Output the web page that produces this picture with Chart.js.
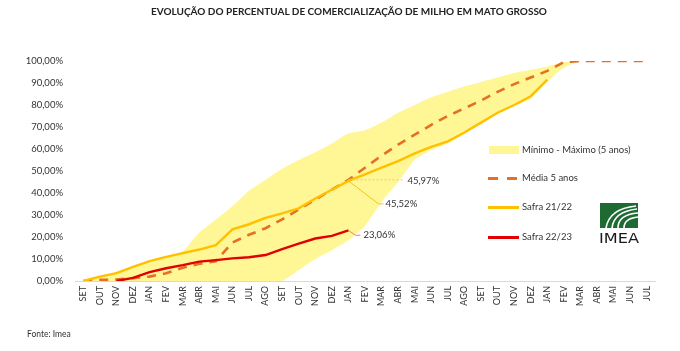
<!DOCTYPE html>
<html><head><meta charset="utf-8">
<script src="https://cdn.jsdelivr.net/npm/chart.js@4"></script>
<style>
html,body{margin:0;padding:0;background:#fff;}
#wrap{position:relative;width:680px;height:351px;font-family:Lato,'Open Sans',sans-serif;overflow:hidden;}
canvas{position:absolute;left:0;top:0;}
.t{position:absolute;white-space:nowrap;color:#333;line-height:1;}
.sw{position:absolute;}
</style></head><body>
<div id="wrap">
<canvas id="c" width="680" height="351"></canvas>
<div class="t" style="left:0;width:698px;top:6px;text-align:center;font-weight:bold;font-size:10px;color:#222;">EVOLUÇÃO DO PERCENTUAL DE COMERCIALIZAÇÃO DE MILHO EM MATO GROSSO</div>
<div class="sw" style="left:489px;top:146px;width:30px;height:8px;background:rgb(255,246,150);"></div>
<div class="t" style="left:522px;top:145px;font-size:9.5px;">Mínimo - Máximo (5 anos)</div>
<div class="sw" style="left:488px;top:177px;width:10px;height:3px;background:rgb(228,112,36);"></div>
<div class="sw" style="left:507px;top:177px;width:10px;height:3px;background:rgb(228,112,36);"></div>
<div class="t" style="left:522px;top:173px;font-size:9.5px;">Média 5 anos</div>
<div class="sw" style="left:488px;top:206px;width:31px;height:2.5px;background:rgb(255,192,0);"></div>
<div class="t" style="left:522px;top:202px;font-size:9.5px;">Safra 21/22</div>
<div class="sw" style="left:488px;top:236px;width:31px;height:2.5px;background:rgb(225,0,0);"></div>
<div class="t" style="left:522px;top:232px;font-size:9.5px;">Safra 22/23</div>
<svg style="position:absolute;left:598px;top:202px;" width="44" height="44" viewBox="0 0 44 44">
<rect x="2" y="1" width="38" height="25" fill="#1d6b33"/>
<path d="M8 26 C10 14 18 6 38 4" stroke="#fff" stroke-width="1.6" fill="none"/>
<path d="M14 26 C15 16 22 9 39 7" stroke="#fff" stroke-width="1.6" fill="none"/>
<path d="M20 26 C20 18 26 12 40 11" stroke="#fff" stroke-width="1.6" fill="none"/>
<path d="M26 26 C26 20 30 16 40 15" stroke="#fff" stroke-width="1.6" fill="none"/>
<text x="21" y="41" text-anchor="middle" font-family="DejaVu Sans, sans-serif" font-size="14" fill="#1a1a1a" textLength="40" lengthAdjust="spacingAndGlyphs">IMEA</text>
</svg>
<div class="t" style="left:27px;top:330px;font-size:8.5px;">Fonte: Imea</div>
</div>
<script>
const labels = ['SET','OUT','NOV','DEZ','JAN','FEV','MAR','ABR','MAI','JUN','JUL','AGO',
                'SET','OUT','NOV','DEZ','JAN','FEV','MAR','ABR','MAI','JUN','JUL','AGO',
                'SET','OUT','NOV','DEZ','JAN','FEV','MAR','ABR','MAI','JUN','JUL'];
const bandMin = [0,0,0,0,0,0,0,0,0,0,0,0,
                 0,5,10,14,18.5,25,36,45,55,59.5,62.5,67,
                 71.5,76,79.5,83,90.5,97,100];
const bandMax = [0,2,3.8,6.6,9.2,11.2,13.5,22,28,34,41,46,
                 51,55,58.5,62.5,67,68.5,72,76.5,80,83.5,86,88.5,
                 90.5,92.5,94.5,96,97.5,99.5,100];
const media = [0,0.5,0.7,1.3,2,3.5,6,7.8,9,17.5,21,24,
               28,32.5,37,41.5,45.97,51.5,57,62,66.5,71,75,78.5,
               82,86,89.5,92.5,95.5,99.5,100,100,100,100,100];
const safra2122 = [0,2,3.6,6.4,9,11,12.7,14.3,16.3,23.5,25.8,28.7,
                   30.7,33,37.5,41.5,45.52,48.5,51.5,54.5,58,61,63.5,67.5,
                   72,76.5,80,84,91.5];
const safra2223 = [null,null,0,1.4,4,5.8,7.2,8.8,9.5,10.3,10.8,11.8,
                   14.5,17,19.3,20.5,23.06];
const labelIndex = 16;

const fmt = v => v.toFixed(2).replace('.', ',') + '%';

const labelPlugin = {
  id: 'lbl',
  afterDatasetsDraw(chart) {
    const ctx = chart.ctx, xs = chart.scales.x, ys = chart.scales.y;
    const x = xs.getPixelForValue(labelIndex);
    ctx.save();
    ctx.font = '9.5px Lato, sans-serif';
    ctx.fillStyle = '#333';
    ctx.textBaseline = 'middle';
    ctx.textAlign = 'left';
    // media
    let y = ys.getPixelForValue(media[labelIndex]);
    ctx.strokeStyle = 'rgb(240,200,110)'; ctx.lineWidth = 1; ctx.setLineDash([2,2]);
    ctx.beginPath(); ctx.moveTo(x, y); ctx.lineTo(x + 55, y); ctx.stroke();
    ctx.setLineDash([]);
    ctx.fillText(fmt(media[labelIndex]), x + 59, y + 1);
    // safra 21/22
    y = ys.getPixelForValue(safra2122[labelIndex]);
    ctx.strokeStyle = 'rgb(245,180,0)'; ctx.lineWidth = 0.8;
    ctx.beginPath(); ctx.moveTo(x, y); ctx.lineTo(x + 30, y + 23); ctx.lineTo(x + 35, y + 23); ctx.stroke();
    ctx.fillText(fmt(safra2122[labelIndex]), x + 37, y + 23);
    // safra 22/23
    y = ys.getPixelForValue(safra2223[labelIndex]);
    ctx.strokeStyle = 'rgb(230,90,120)'; ctx.lineWidth = 0.8;
    ctx.beginPath(); ctx.moveTo(x, y); ctx.lineTo(x + 7, y + 5); ctx.lineTo(x + 12, y + 5); ctx.stroke();
    ctx.fillText(fmt(safra2223[labelIndex]), x + 15, y + 5);
    ctx.restore();
  }
};

new Chart(document.getElementById('c'), {
  type: 'line',
  data: {
    labels: labels,
    datasets: [
      { label: 'min', data: bandMin, borderWidth: 0, pointRadius: 0, fill: false, order: 10, tension: 0.2 },
      { label: 'Mínimo - Máximo (5 anos)', data: bandMax, borderWidth: 0, pointRadius: 0, fill: '-1',
        backgroundColor: 'rgb(255,246,150)', order: 10, tension: 0.2 },
      { label: 'Média 5 anos', data: media, borderColor: 'rgb(228,112,36)', borderWidth: 2.6,
        borderDash: [9, 7], pointRadius: 0, fill: false, order: 3 },
      { label: 'Safra 21/22', data: safra2122, borderColor: 'rgb(255,192,0)', borderWidth: 2.4,
        pointRadius: 0, fill: false, order: 2 },
      { label: 'Safra 22/23', data: safra2223, borderColor: 'rgb(225,0,0)', borderWidth: 2.4,
        pointRadius: 0, fill: false, order: 1 }
    ]
  },
  options: {
    responsive: false,
    animation: false,
    devicePixelRatio: 1,
    layout: { padding: { left: 0, right: 25, top: 61, bottom: 0 } },
    plugins: { legend: { display: false }, title: { display: false }, tooltip: { enabled: false } },
    scales: {
      x: {
        offset: true,
        grid: { display: false, drawTicks: false },
        border: { display: true, color: '#d9d9d9', width: 1 },
        ticks: { autoSkip: false, minRotation: 90, maxRotation: 90, padding: 5,
                 color: '#333', font: { family: 'Lato', size: 9 } },
        afterFit(s) { s.height = 70; }
      },
      y: {
        min: 0, max: 100,
        grid: { display: false, drawTicks: false },
        border: { display: false },
        ticks: { stepSize: 10, padding: 12, color: '#333', font: { family: 'Lato', size: 9.5 },
                 callback: v => fmt(v) },
        afterFit(s) { s.width = 75; }
      }
    }
  },
  plugins: [labelPlugin]
});
</script>
</body></html>
